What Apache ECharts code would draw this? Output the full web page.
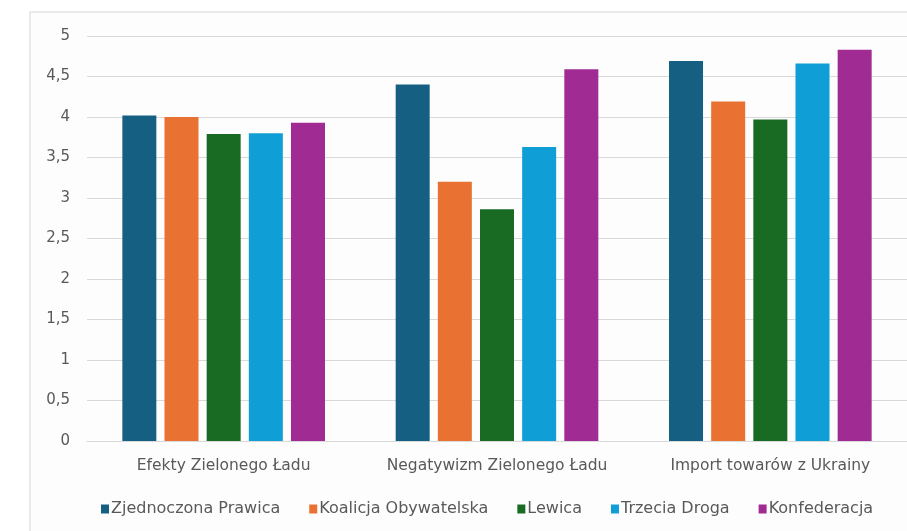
<!DOCTYPE html>
<html>
<head>
<meta charset="utf-8">
<script src="https://cdn.jsdelivr.net/npm/echarts@6/dist/echarts.min.js"></script>
<style>html,body{margin:0;padding:0;background:#fff;}#c{width:907px;height:531px;}</style>
</head>
<body>
<div id="c"></div>
<script>
const categories = ['Efekty Zielonego Ładu', 'Negatywizm Zielonego Ładu', 'Import towarów z Ukrainy'];
const seriesNames = ['Zjednoczona Prawica', 'Koalicja Obywatelska', 'Lewica', 'Trzecia Droga', 'Konfederacja'];
const zjednoczonaPrawica = [4.02, 4.40, 4.69];
const koalicjaObywatelska = [4.00, 3.20, 4.19];
const lewica = [3.79, 2.86, 3.97];
const trzeciaDroga = [3.80, 3.63, 4.66];
const konfederacja = [3.93, 4.59, 4.83];
const colors = ['#156082', '#E97132', '#196B24', '#0F9ED5', '#A02B93'];
const values = [zjednoczonaPrawica, koalicjaObywatelska, lewica, trzeciaDroga, konfederacja];

const chart = echarts.init(document.getElementById('c'), null, {renderer: 'canvas'});
const font = '"DejaVu Sans", Arial, sans-serif';
chart.setOption({
  animation: false,
  backgroundColor: '#ffffff',
  textStyle: {fontFamily: font},
  graphic: [{
    type: 'rect', z: -10, silent: true,
    shape: {x: 30, y: 12, width: 900, height: 540},
    style: {fill: '#fdfdfd', stroke: '#e3e3e3', lineWidth: 1.5}
  }],
  grid: {left: 87, top: 36, width: 822, height: 405, containLabel: false},
  xAxis: {
    type: 'category', data: categories,
    axisLine: {show: true, lineStyle: {color: '#d9d9d9', width: 1}},
    axisTick: {show: false},
    axisLabel: {color: '#595959', fontSize: 15.5, margin: 17, fontFamily: font, interval: 0, hideOverlap: false}
  },
  yAxis: {
    type: 'value', min: 0, max: 5, interval: 0.5,
    axisLine: {show: false}, axisTick: {show: false},
    splitLine: {lineStyle: {color: '#d9d9d9', width: 1}},
    axisLabel: {color: '#595959', fontSize: 15, margin: 17, fontFamily: font,
      formatter: v => String(v).replace('.', ',')}
  },
  legend: {
    top: 496, left: 96, itemWidth: 8, itemHeight: 9, itemGap: 29,
    icon: 'rect', itemStyle: {borderWidth: 0},
    textStyle: {color: '#595959', fontSize: 16, fontFamily: font, padding: [0, 0, 0, -3]},
    data: seriesNames
  },
  series: seriesNames.map((n, i) => ({
    name: n, type: 'bar', data: values[i], barWidth: 34, barGap: '24%',
    itemStyle: {color: colors[i]}
  }))
});
</script>
</body>
</html>
